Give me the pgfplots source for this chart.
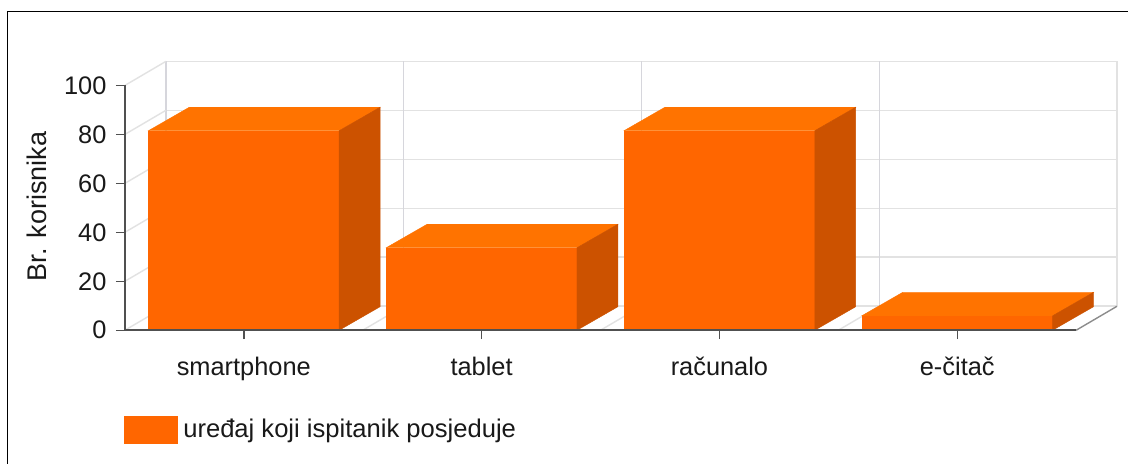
\documentclass[border=0pt]{standalone}
\usepackage{pgfplots}
\pgfplotsset{compat=1.18}
\usepackage{fontspec}
\setmainfont{Liberation Sans}
\definecolor{front}{HTML}{FF6600}
\definecolor{topc}{HTML}{FF7300}
\definecolor{side}{HTML}{CC5200}
\definecolor{gridc}{HTML}{E2E2E2}
\definecolor{gridv}{HTML}{D6D6DC}
\definecolor{axc}{HTML}{505050}
\begin{document}
\begin{tikzpicture}[x=1pt,y=1pt]
\path[fill=white] (0,0) rectangle (1129,464);
\draw[black,line width=1.8pt] (7.5,0) -- (7.5,452.5) -- (1129,452.5);
\begin{axis}[
  at={(125pt,133.5pt)}, anchor=south west,
  scale only axis, width=952pt, height=245pt,
  xmin=-0.5, xmax=3.5, ymin=0, ymax=100,
  axis lines*=left, axis line style={axc,line width=1.6pt,-},
  xtick={0,1,2,3},
  xticklabels={smartphone,tablet,računalo,e-čitač},
  ytick={0,20,40,60,80,100},
  tick align=outside, major tick length=9pt,
  tick style={axc,line width=1.4pt},
  /pgf/number format/assume math mode=true,
  ticklabel style={font=\fontsize{25.4}{29}\selectfont,text=black!90},
  xticklabel style={yshift=-14pt},
  yticklabel style={xshift=-6pt},
  ylabel={Br. korisnika},
  every axis y label/.style={at={(axis description cs:-0.0925,0.505)},rotate=90,anchor=center,font=\fontsize{27}{31}\selectfont,text=black!90},
  clip=false, axis on top,
  legend style={at={(axis description cs:-0.001,-0.405)},anchor=west,draw=none,fill=none,
    inner sep=0pt,outer sep=0pt,font=\fontsize{25.6}{29}\selectfont,text=black!90,
    nodes={inner xsep=6pt}},
  legend cell align=left,
]
% back wall grid
\addplot[gridc,line width=1.6pt,forget plot] coordinates {(-0.328,9.8) (3.672,9.8)};
\addplot[gridc,line width=1.6pt,forget plot] coordinates {(-0.328,29.8) (3.672,29.8)};
\addplot[gridc,line width=1.6pt,forget plot] coordinates {(-0.328,49.8) (3.672,49.8)};
\addplot[gridc,line width=1.6pt,forget plot] coordinates {(-0.328,69.8) (3.672,69.8)};
\addplot[gridc,line width=1.6pt,forget plot] coordinates {(-0.328,89.8) (3.672,89.8)};
\addplot[gridc,line width=1.6pt,forget plot] coordinates {(-0.328,109.8) (3.672,109.8)};
\addplot[gridv,line width=1.4pt,forget plot] coordinates {(-0.328,9.8) (-0.328,109.8)};
\addplot[gridv,line width=1.4pt,forget plot] coordinates {(0.672,9.8) (0.672,109.8)};
\addplot[gridv,line width=1.4pt,forget plot] coordinates {(1.672,9.8) (1.672,109.8)};
\addplot[gridv,line width=1.4pt,forget plot] coordinates {(2.672,9.8) (2.672,109.8)};
\addplot[gridc,line width=1.4pt,forget plot] coordinates {(3.672,9.8) (3.672,109.8)};
% left wall diagonals
\addplot[gridc,line width=1.4pt,forget plot] coordinates {(-0.5,0) (-0.328,9.8)};
\addplot[gridc,line width=1.4pt,forget plot] coordinates {(-0.5,20) (-0.328,29.8)};
\addplot[gridc,line width=1.4pt,forget plot] coordinates {(-0.5,40) (-0.328,49.8)};
\addplot[gridc,line width=1.4pt,forget plot] coordinates {(-0.5,60) (-0.328,69.8)};
\addplot[gridc,line width=1.4pt,forget plot] coordinates {(-0.5,80) (-0.328,89.8)};
\addplot[gridc,line width=1.4pt,forget plot] coordinates {(-0.5,100) (-0.328,109.8)};
% floor diagonals
\addplot[gridc,line width=1.4pt,forget plot] coordinates {(0.5,0) (0.672,9.8)};
\addplot[gridc,line width=1.4pt,forget plot] coordinates {(1.5,0) (1.672,9.8)};
\addplot[gridc,line width=1.4pt,forget plot] coordinates {(2.5,0) (2.672,9.8)};
\addplot[black!45,line width=1.4pt,forget plot] coordinates {(3.5,0) (3.672,9.8)};
% bar 1: smartphone 81.5
\addplot[draw=front,line width=0.4pt,fill=front,forget plot] coordinates {(-0.401,0) (0.401,0) (0.401,81.5) (-0.401,81.5)} --cycle;
\addplot[draw=topc,line width=0.4pt,fill=topc,forget plot] coordinates {(-0.401,81.5) (0.401,81.5) (0.573,91.1) (-0.229,91.1)} --cycle;
\addplot[draw=side,line width=0.4pt,fill=side,forget plot] coordinates {(0.401,0) (0.573,9.6) (0.573,91.1) (0.401,81.5)} --cycle;
% bar 2: tablet 33.7
\addplot[draw=front,line width=0.4pt,fill=front,forget plot] coordinates {(0.599,0) (1.401,0) (1.401,33.7) (0.599,33.7)} --cycle;
\addplot[draw=topc,line width=0.4pt,fill=topc,forget plot] coordinates {(0.599,33.7) (1.401,33.7) (1.573,43.3) (0.771,43.3)} --cycle;
\addplot[draw=side,line width=0.4pt,fill=side,forget plot] coordinates {(1.401,0) (1.573,9.6) (1.573,43.3) (1.401,33.7)} --cycle;
% bar 3: racunalo 81.5
\addplot[draw=front,line width=0.4pt,fill=front,forget plot] coordinates {(1.599,0) (2.401,0) (2.401,81.5) (1.599,81.5)} --cycle;
\addplot[draw=topc,line width=0.4pt,fill=topc,forget plot] coordinates {(1.599,81.5) (2.401,81.5) (2.573,91.1) (1.771,91.1)} --cycle;
\addplot[draw=side,line width=0.4pt,fill=side,forget plot] coordinates {(2.401,0) (2.573,9.6) (2.573,91.1) (2.401,81.5)} --cycle;
% bar 4: e-citac 5.9
\addplot[draw=front,line width=0.4pt,fill=front,forget plot] coordinates {(2.599,0) (3.401,0) (3.401,5.9) (2.599,5.9)} --cycle;
\addplot[draw=topc,line width=0.4pt,fill=topc,forget plot] coordinates {(2.599,5.9) (3.401,5.9) (3.573,15.5) (2.771,15.5)} --cycle;
\addplot[draw=side,line width=0.4pt,fill=side,forget plot] coordinates {(3.401,0) (3.573,9.6) (3.573,15.5) (3.401,5.9)} --cycle;
\addlegendimage{legend image code/.code={\fill[front] (0pt,-13.5pt) rectangle (53pt,13.5pt);}}
\addlegendentry{uređaj koji ispitanik posjeduje}
\end{axis}
\useasboundingbox (0,0) rectangle (1129,464);
\end{tikzpicture}
\end{document}
